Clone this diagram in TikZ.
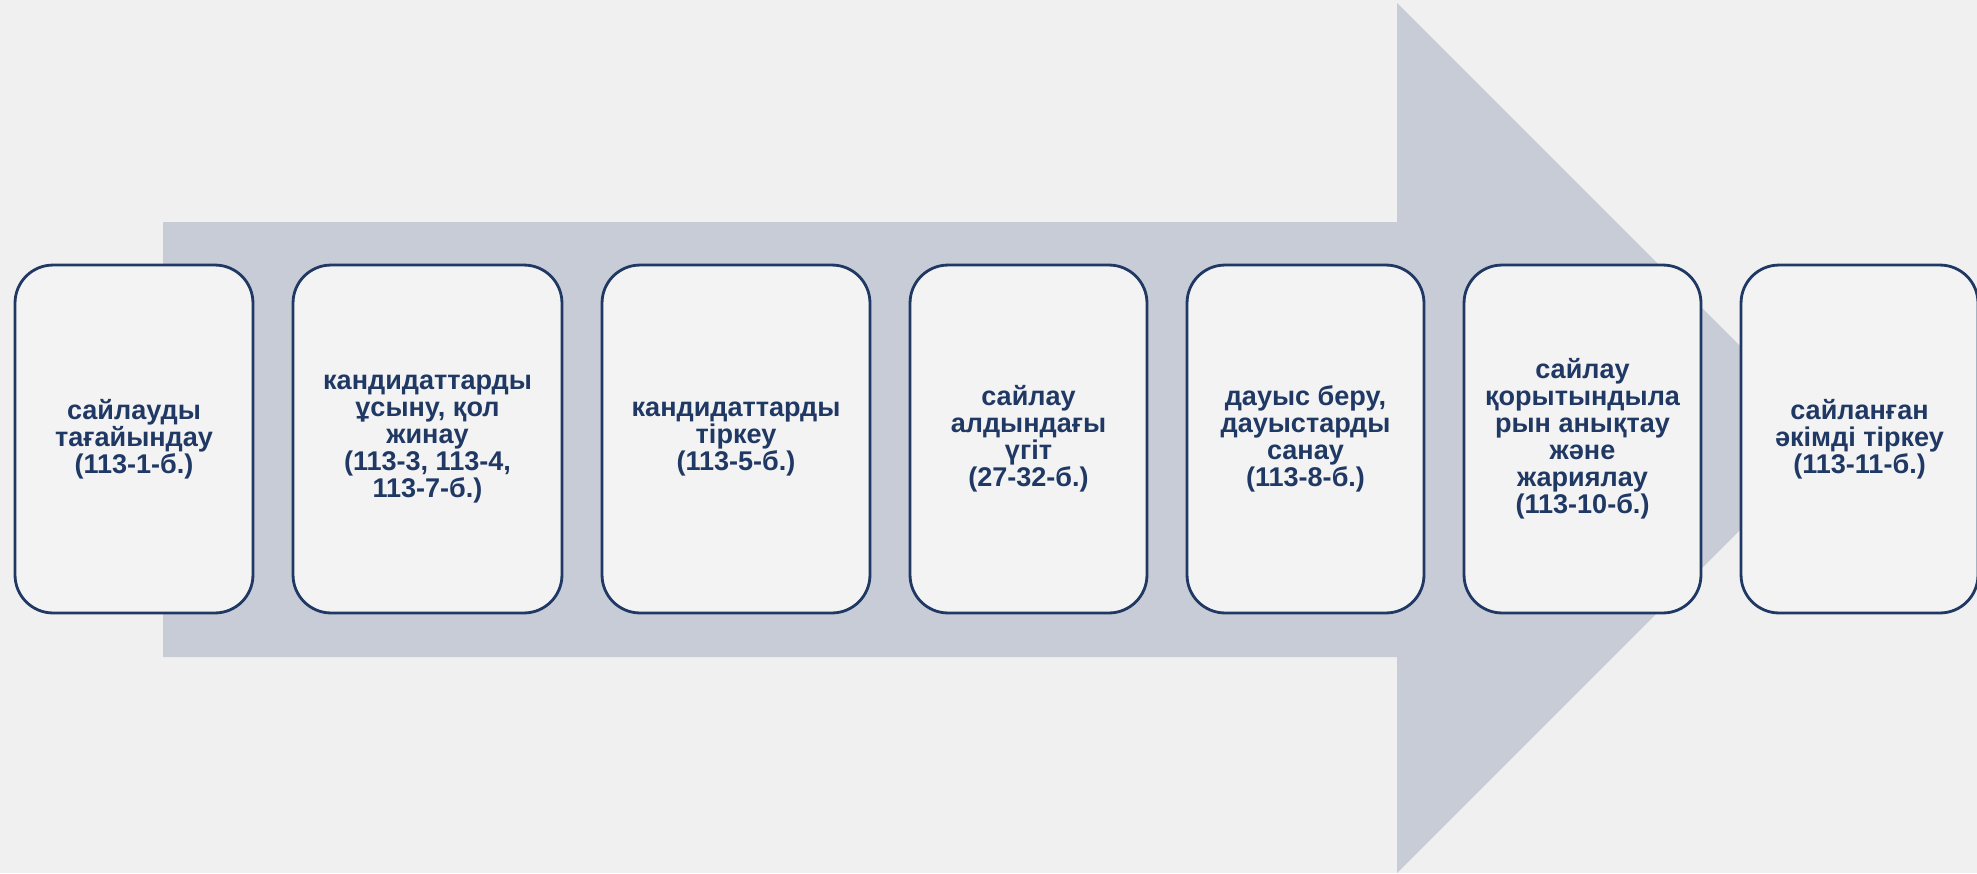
\documentclass[tikz,border=0pt]{standalone}
\usepackage{fontspec}
\setmainfont{Liberation Sans}
\usepackage{xcolor}
\usepackage{tikz}
\usetikzlibrary{positioning,shapes,calc}
\definecolor{pagegray}{HTML}{F0F0F0}
\definecolor{arrowgray}{HTML}{C8CCD7}
\definecolor{boxfill}{HTML}{F3F3F3}
\definecolor{navy}{HTML}{203864}

\begin{document}
\begin{tikzpicture}[x = 0.02cm, y = -0.02cm,
  stepbox/.style = {draw = navy, line width = 1.6pt, fill = boxfill, rounded corners = 0.76cm,
    minimum height = 6.96cm, align = center, text = navy, inner sep = 2pt,
    font = \bfseries\fontsize{15.4}{15.4}\selectfont}]
\useasboundingbox (0,0) rectangle (1977,873);
\fill[pagegray] (0,0) rectangle (1977,873);
% big arrow behind the steps
\fill[arrowgray] (163,222) -- (1397,222) -- (1397,3) -- (1832,438) -- (1397,873) -- (1397,657) -- (163,657) -- cycle;
\node[stepbox, minimum width = 4.76cm] (tagai) at (134,439) {сайлауды\\тағайындау\\(113-1-б.)};
\node[stepbox, minimum width = 5.38cm] (usynu) at (427.5,439) {кандидаттарды\\ұсыну, қол\\жинау\\(113-3, 113-4,\\113-7-б.)};
\node[stepbox, minimum width = 5.36cm] (tirkeu) at (736,439) {кандидаттарды\\тіркеу\\(113-5-б.)};
\node[stepbox, minimum width = 4.74cm] (ugit) at (1028.5,439) {сайлау\\алдындағы\\үгіт\\(27-32-б.)};
\node[stepbox, minimum width = 4.74cm] (dauys) at (1305.5,439) {дауыс беру,\\дауыстарды\\санау\\(113-8-б.)};
\node[stepbox, minimum width = 4.74cm] (qorytyndy) at (1582.5,439) {сайлау\\қорытындыла\\рын анықтау\\және\\жариялау\\(113-10-б.)};
\node[stepbox, minimum width = 4.74cm] (akim) at (1859.5,439) {сайланған\\әкімді тіркеу\\(113-11-б.)};
\end{tikzpicture}
\end{document}
